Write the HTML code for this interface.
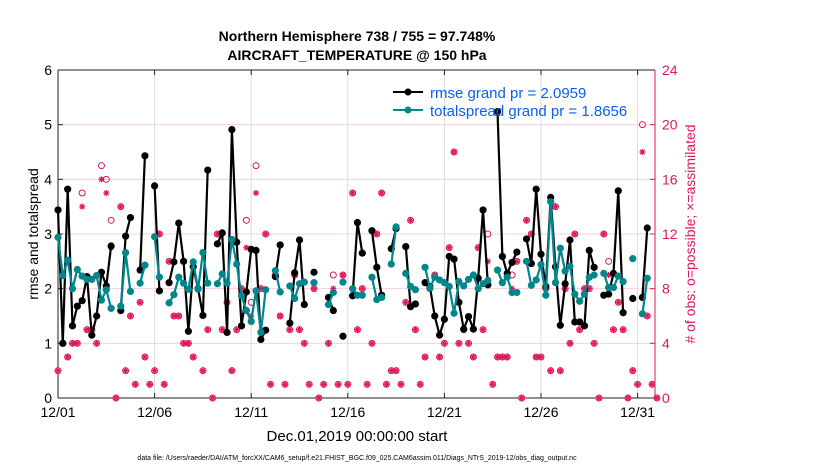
<!DOCTYPE html>
<html><head><meta charset="utf-8"><style>
body{margin:0;background:#fff;}
svg{display:block;font-family:"Liberation Sans",sans-serif;}
</style></head><body>
<svg id="chart" width="830" height="470">
<rect width="830" height="470" fill="#fff"/>
<text x="357" y="41" text-anchor="middle" font-size="14" font-weight="bold">Northern Hemisphere 738 / 755 = 97.748%</text>
<text x="357" y="60" text-anchor="middle" font-size="14" font-weight="bold">AIRCRAFT_TEMPERATURE @ 150 hPa</text>
<g id="grid"></g>
<g id="axes"></g>
<g id="marks"></g>
<text x="0" y="0" transform="translate(38,234) rotate(-90)" text-anchor="middle" font-size="14">rmse and totalspread</text>
<text x="0" y="0" transform="translate(695,234) rotate(-90)" text-anchor="middle" font-size="14" fill="#e0175a"># of obs: o=possible; ×=assimilated</text>
<text x="357" y="441" text-anchor="middle" font-size="15">Dec.01,2019 00:00:00 start</text>
<text x="357" y="460" text-anchor="middle" font-size="7">data file: /Users/raeder/DAI/ATM_forcXX/CAM6_setup/f.e21.FHIST_BGC.f09_025.CAM6assim.011/Diags_NTrS_2019-12/obs_diag_output.nc</text>
<g>
<line x1="393" y1="92" x2="423" y2="92" stroke="#000" stroke-width="2"/>
<circle cx="408" cy="92" r="3.5" fill="#000"/>
<text x="430" y="98" font-size="15" fill="#0a5ef5">rmse grand pr = 2.0959</text>
<line x1="393" y1="110" x2="423" y2="110" stroke="#00868b" stroke-width="2"/>
<circle cx="408" cy="110" r="3.5" fill="#00868b"/>
<text x="430" y="116" font-size="15" fill="#0a5ef5">totalspread grand pr = 1.8656</text>
</g>
</svg>
<script>
const xTickLabels=["12/01","12/06","12/11","12/16","12/21","12/26","12/31"];
const yTicks=[0,1,2,3,4,5,6];
const y2Ticks=[0,4,8,12,16,20,24];
const N=null;
const rmse=[3.44,1.0,3.82,1.32,1.68,1.78,2.22,1.15,1.5,2.3,2.05,2.78,N,1.6,2.96,3.3,N,2.34,4.43,N,3.88,1.96,N,2.11,2.49,3.2,2.5,1.22,2.4,2.0,1.51,4.17,N,2.82,3.02,1.2,4.91,2.85,1.32,1.94,2.72,2.7,
1.07,1.24,N,2.22,2.8,N,1.37,2.29,2.89,1.71,N,2.3,N,N,1.84,1.6,N,1.13,N,1.87,3.21,2.65,N,3.06,2.39,1.88,N,2.73,3.1,N,2.77,1.67,1.72,N,2.11,2.04,1.5,1.15,1.44,2.59,2.54,1.75,
1.26,1.49,1.26,2.19,3.44,2.07,N,5.24,2.59,2.28,2.48,2.67,N,2.91,2.46,3.82,2.63,2.04,3.67,2.4,1.33,2.09,2.89,1.39,1.39,1.32,2.7,2.39,N,1.88,1.9,2.28,3.79,1.56,N,1.82,N,1.84,3.11,N,N];
const spread=[2.94,2.24,2.52,2.0,2.35,2.23,2.17,2.17,2.24,1.79,1.98,1.64,N,1.68,2.66,1.95,N,2.1,2.43,N,2.95,2.21,N,1.74,1.89,2.21,2.1,1.99,2.49,1.99,2.66,2.1,N,2.09,2.27,2.1,2.9,2.45,1.87,1.6,1.4,1.96,
1.2,1.98,N,2.33,1.94,N,2.05,1.82,2.09,2.12,N,2.11,N,N,1.71,1.93,N,2.12,N,2.0,1.88,1.88,N,2.21,1.8,1.84,N,2.45,3.13,N,2.28,2.04,1.98,N,2.39,2.01,2.21,2.16,2.11,2.04,1.55,2.13,
2.05,2.17,2.25,2.0,2.09,2.15,N,2.34,2.11,2.21,1.93,1.93,N,2.5,2.06,2.16,2.44,1.88,3.59,2.11,2.74,2.32,2.41,1.9,1.77,1.9,2.21,2.25,N,2.28,2.02,2.02,2.23,2.13,N,2.55,N,1.54,2.19,N,N];
const possible=[2,4,3,4,4,15,5,5,4,17,16,13,0,14,2,6,1,7,3,1,2,12,1,10,6,6,4,4,3,8,2,5,0,12,5,7,2,5,8,13,7,17,8,12,1,9,6,1,5,9,5,4,1,8,0,1,4,9,1,9,1,15,5,8,1,4,12,15,1,2,2,1,7,13,5,1,3,8,9,3,4,11,18,4,5,4,3,11,5,12,1,3,3,3,9,10,0,13,12,3,3,8,2,14,2,8,4,12,5,8,8,4,0,12,10,5,7,5,0,2,1,20,6,1,0];
const assimilated=[2,4,3,4,4,14,5,5,4,16,15,11,0,14,2,6,1,7,3,1,2,12,1,10,6,6,4,4,3,8,2,5,0,12,5,7,2,5,8,11,6,15,8,12,1,9,6,1,5,9,5,4,1,8,0,1,4,8,1,9,1,15,5,8,1,4,12,15,1,2,2,1,7,13,5,1,3,8,9,3,4,11,18,4,5,4,3,11,5,10,1,3,3,3,8,10,0,13,12,3,3,8,2,14,2,8,4,12,5,8,8,4,0,12,9,5,7,5,0,2,1,18,6,1,0];

const L=58,R=655,T=70,B=398;
const x=i=>L+i*4.83;            // i = 6-hour step index
const xDay=d=>L+d*19.32;
const y=v=>B-(v/6)*(B-T);
const y2=v=>B-(v/24)*(B-T);
const NS="http://www.w3.org/2000/svg";
function mk(tag,attrs,parent){const e=document.createElementNS(NS,tag);for(const k in attrs)e.setAttribute(k,attrs[k]);parent.appendChild(e);return e;}
const grid=document.getElementById('grid'),axes=document.getElementById('axes'),marks=document.getElementById('marks');

yTicks.forEach((v,k)=>{
 const gl=mk('line',{x1:L,x2:R,y1:y(v),y2:y(v),stroke:'#f6d0dc','stroke-width':1},grid);
 
 
 const t=mk('text',{x:L-6,y:y(v)+5,'text-anchor':'end','font-size':14},axes);t.textContent=v;
 
 
 mk('line',{x1:L,x2:L+5,y1:y(v),y2:y(v),stroke:'#222'},axes);
});
y2Ticks.forEach(v=>{
 const t=mk('text',{x:R+7,y:y2(v)+5,'font-size':14,fill:'#e0175a'},axes);t.textContent=v;
 
 
 mk('line',{x1:R-5,x2:R,y1:y2(v),y2:y2(v),stroke:'#e0175a'},axes);
});
xTickLabels.forEach((s,k)=>{
 const xx=xDay(k*5);
 const gl=mk('line',{x1:xx,x2:xx,y1:T,y2:B,stroke:'#dcdcdc','stroke-width':1},grid);
 
 
 mk('line',{x1:xx,x2:xx,y1:B,y2:B-5,stroke:'#222'},axes);
 mk('line',{x1:xx,x2:xx,y1:T,y2:T+5,stroke:'#222'},axes);
 const t=mk('text',{x:xx,y:B+19,'text-anchor':'middle','font-size':14},axes);t.textContent=s;
 
 
});
mk('line',{x1:L,x2:R,y1:T,y2:T,stroke:'#222'},axes);
mk('line',{x1:L,x2:R,y1:B,y2:B,stroke:'#222'},axes);
mk('line',{x1:L,x2:L,y1:T,y2:B,stroke:'#222'},axes);
mk('line',{x1:R,x2:R,y1:T,y2:B,stroke:'#e0175a'},axes);

// obs markers
possible.forEach((v,i)=>{
 const c=mk('circle',{cx:x(i),cy:y2(v),r:3,fill:'none',stroke:'#e0175a','stroke-width':1},marks);
 
 
});
assimilated.forEach((v,i)=>{
 const cx=x(i),cy=y2(v),r=3;
 const p=mk('path',{d:`M${cx-r} ${cy}H${cx+r}M${cx} ${cy-r}V${cy+r}M${cx-2.2} ${cy-2.2}L${cx+2.2} ${cy+2.2}M${cx-2.2} ${cy+2.2}L${cx+2.2} ${cy-2.2}`,stroke:'#e0175a','stroke-width':1.2},marks);
 
 
});

function series(arr,color,name){
 let d='';let pen=false;
 arr.forEach((v,i)=>{if(v===null){pen=false;return;}d+=(pen?'L':'M')+x(i).toFixed(1)+' '+y(v).toFixed(1);pen=true;});
 const p=mk('path',{d:d,fill:'none',stroke:color,'stroke-width':2.2,'stroke-linejoin':'round'},marks);
 
 
 arr.forEach((v,i)=>{if(v===null)return;
  const c=mk('circle',{cx:x(i),cy:y(v),r:3.6,fill:color},marks);
  
  
 });
}
series(rmse,'#000','rmse');
series(spread,'#00868b','totalspread');
</script>
</body></html>
